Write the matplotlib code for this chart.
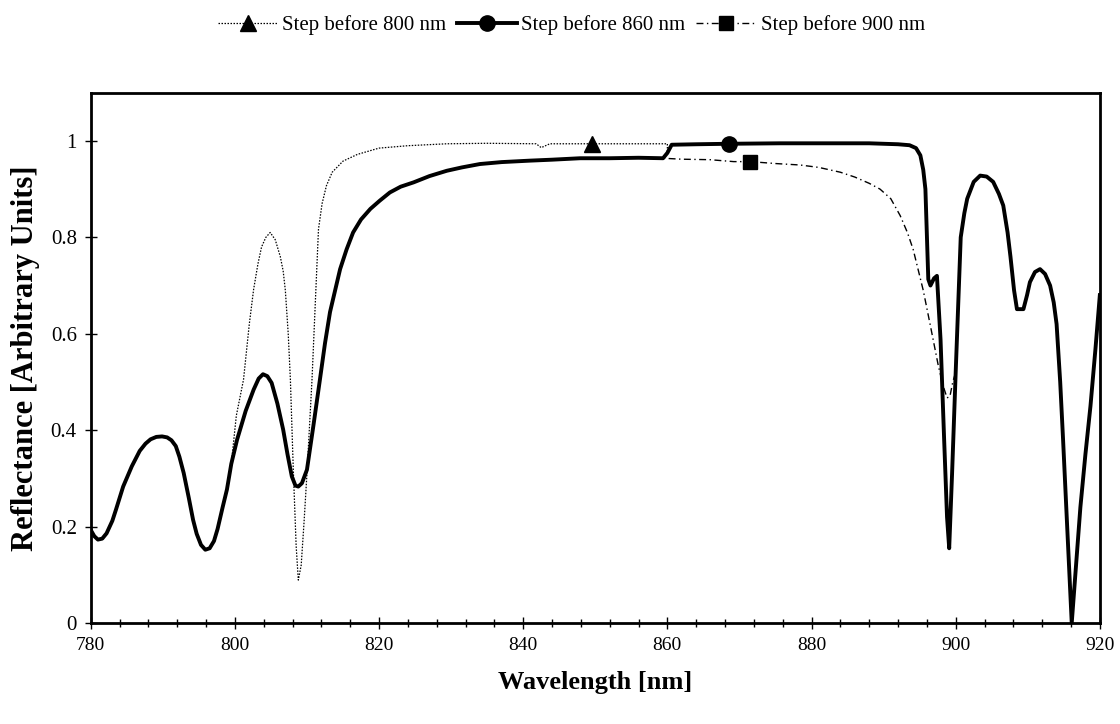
import matplotlib
matplotlib.use("Agg")
import matplotlib.pyplot as plt
from matplotlib.ticker import MultipleLocator

plt.rcParams['font.family'] = ['Liberation Serif', 'DejaVu Serif']

# ---- data ----
# part shared by all three series (780 - 799.5 nm)
wl_common_lo = [780, 780.5, 781, 781.6, 782.2, 783.0, 783.5, 784.5, 785.7, 786.8,
                787.6, 788.3, 789.1, 789.9, 790.6, 791.2, 791.8, 792.3, 792.9, 793.6,
                794.2, 794.7, 795.3, 795.9, 796.5, 797.1, 797.6, 798.3, 798.9, 799.5]
r_common_lo = [0.193, 0.180, 0.173, 0.175, 0.186, 0.212, 0.235, 0.283, 0.325, 0.357,
               0.372, 0.381, 0.386, 0.387, 0.385, 0.379, 0.367, 0.345, 0.311, 0.260,
               0.214, 0.185, 0.162, 0.152, 0.155, 0.170, 0.195, 0.240, 0.277, 0.330]

# "Step before 800 nm" between 799.5 and 860 nm
wl_s800_mid = [800.2, 801.2, 802.0, 802.6, 803.2, 803.7, 804.3, 804.9, 805.6, 806.3,
               806.7, 807.0, 807.4, 807.7, 808.1, 808.5, 808.8, 809.2, 809.6, 810.0,
               810.7, 811.1, 811.6, 812.1, 812.7, 813.5, 815, 817, 820, 824,
               829.4, 835, 841.8, 842.5, 843.7, 849.5, 855, 860.0]
r_s800_mid = [0.430, 0.505, 0.620, 0.692, 0.745, 0.780, 0.800, 0.810, 0.795, 0.760,
              0.730, 0.690, 0.600, 0.505, 0.320, 0.160, 0.089, 0.120, 0.210, 0.310,
              0.505, 0.644, 0.817, 0.870, 0.907, 0.935, 0.958, 0.972, 0.985, 0.990,
              0.994, 0.995, 0.994, 0.986, 0.994, 0.994, 0.994, 0.994]

# "Step before 860 nm" / "Step before 900 nm" between 799.5 and 859.4 nm
wl_low_mid = [800.3, 801.5, 802.6, 803.3, 803.9, 804.5, 805.1, 805.9, 806.7, 807.3,
              807.9, 808.4, 808.8, 809.3, 810.0, 810.9, 811.8, 812.5, 813.2, 814.6,
              815.5, 816.4, 817.5, 818.8, 820.1, 821.5, 823, 824.8, 827, 829.4,
              831.5, 834.0, 837, 840.9, 844, 847.9, 852, 856, 859.4]
r_low_mid = [0.380, 0.440, 0.484, 0.507, 0.516, 0.512, 0.498, 0.455, 0.401, 0.350,
             0.304, 0.285, 0.283, 0.290, 0.318, 0.410, 0.505, 0.580, 0.645, 0.734,
             0.775, 0.810, 0.837, 0.859, 0.876, 0.893, 0.905, 0.914, 0.927, 0.938,
             0.945, 0.952, 0.956, 0.959, 0.961, 0.964, 0.964, 0.965, 0.964]

# high plateau of "Step before 860 nm" (shared with 800 nm series) up to 899.5 nm
wl_s860_hi = [860.0, 860.6, 864, 868.5, 875.6, 882, 888, 892, 893.6, 894.5,
              895.1, 895.5, 895.8, 896.2, 896.5, 897.0, 897.4, 897.9, 898.4, 898.8,
              899.1, 899.5]
r_s860_hi = [0.975, 0.992, 0.993, 0.994, 0.995, 0.995, 0.995, 0.993, 0.991, 0.985,
             0.970, 0.940, 0.900, 0.713, 0.700, 0.715, 0.720, 0.588, 0.380, 0.220,
             0.155, 0.310]

# "Step before 900 nm" between 859.4 and 899.6 nm
wl_s900_hi = [862, 865.9, 869.2, 871.5, 875, 878.4, 881, 884, 886, 888,
              889.5, 891, 892.3, 893.3, 894.1, 895.5, 896.5, 897.6, 898.3, 898.8,
              899.2, 899.6]
r_s900_hi = [0.962, 0.961, 0.957, 0.957, 0.953, 0.950, 0.945, 0.935, 0.925, 0.912,
             0.900, 0.880, 0.845, 0.810, 0.775, 0.690, 0.616, 0.533, 0.490, 0.467,
             0.470, 0.500]

# part shared by all three series (900 - 920 nm)
wl_common_hi = [900.0, 900.7, 901.2, 901.6, 902.5, 903.4, 904.3, 905.2, 906.0, 906.6,
                907.2, 907.6, 908.1, 908.5, 909.4, 909.9, 910.3, 911.0, 911.7, 912.4,
                913.1, 913.6, 914.0, 914.5, 914.9, 915.5, 916.1, 916.7, 917.3, 918.0,
                918.7, 919.4, 920]
r_common_hi = [0.520, 0.800, 0.850, 0.880, 0.915, 0.928, 0.926, 0.915, 0.890, 0.866,
               0.810, 0.760, 0.690, 0.651, 0.651, 0.680, 0.707, 0.728, 0.734, 0.724,
               0.700, 0.665, 0.620, 0.500, 0.380, 0.190, 0.000, 0.120, 0.240, 0.350,
               0.450, 0.570, 0.680]

wl_800 = wl_common_lo + wl_s800_mid + wl_s860_hi + wl_common_hi
r_800 = r_common_lo + r_s800_mid + r_s860_hi + r_common_hi
wl_860 = wl_common_lo + wl_low_mid + wl_s860_hi + wl_common_hi
r_860 = r_common_lo + r_low_mid + r_s860_hi + r_common_hi
wl_900 = wl_common_lo + wl_low_mid + wl_s900_hi + wl_common_hi
r_900 = r_common_lo + r_low_mid + r_s900_hi + r_common_hi

labels = ["Step before 800 nm", "Step before 860 nm", "Step before 900 nm"]
marker_wl = [849.5, 868.5, 871.5]   # wavelengths where each series carries its marker

x_ticks = [780, 800, 820, 840, 860, 880, 900, 920]
y_ticks = [0, 0.2, 0.4, 0.6, 0.8, 1]
y_tick_labels = ["0", "0.2", "0.4", "0.6", "0.8", "1"]

# ---- figure ----
fig = plt.figure(figsize=(11.2, 7.24), dpi=100)
ax = fig.add_axes([0.081, 0.1395, 0.901, 0.7325])

def midx(wl, w):
    return [min(range(len(wl)), key=lambda i: abs(wl[i] - w))]

l800, = ax.plot(wl_800, r_800, color='black', lw=0.9, linestyle=(0, (1.2, 1.2)),
                marker='^', markersize=11, markevery=midx(wl_800, marker_wl[0]),
                label=labels[0], zorder=3)
l900, = ax.plot(wl_900, r_900, color='black', lw=1.0, linestyle=(0, (5, 2.5, 1, 2.5)),
                marker='s', markersize=10, markevery=midx(wl_900, marker_wl[2]),
                label=labels[2], zorder=3)
l860, = ax.plot(wl_860, r_860, color='black', lw=2.8, linestyle='-',
                marker='o', markersize=11, markevery=midx(wl_860, marker_wl[1]),
                label=labels[1], zorder=4, solid_joinstyle='round')

ax.set_xlim(780, 920)
ax.set_ylim(0, 1.1)
ax.set_xticks(x_ticks)
ax.xaxis.set_minor_locator(MultipleLocator(4))
ax.set_yticks(y_ticks)
ax.set_yticklabels(y_tick_labels)

for s in ax.spines.values():
    s.set_linewidth(2.0)

ax.tick_params(axis='both', which='major', direction='inout', length=8, width=1.0,
               colors='black')
ax.tick_params(axis='x', which='minor', direction='inout', length=6, width=1.0)
ax.tick_params(axis='x', which='major', pad=6, labelsize=14)
ax.tick_params(axis='y', which='major', pad=6, labelsize=15)

ax.set_xlabel("Wavelength [nm]", fontsize=19, fontweight='bold', labelpad=12)
ax.set_ylabel("Reflectance [Arbitrary Units]", fontsize=22, fontweight='bold', labelpad=8)

fig.legend(handles=[l800, l860, l900], labels=labels, loc='upper center',
           bbox_to_anchor=(0.51, 1.005), ncol=3, frameon=False, fontsize=15,
           handlelength=2.9, handletextpad=0.2, columnspacing=0.5)

fig.savefig("out.png", dpi=100)
